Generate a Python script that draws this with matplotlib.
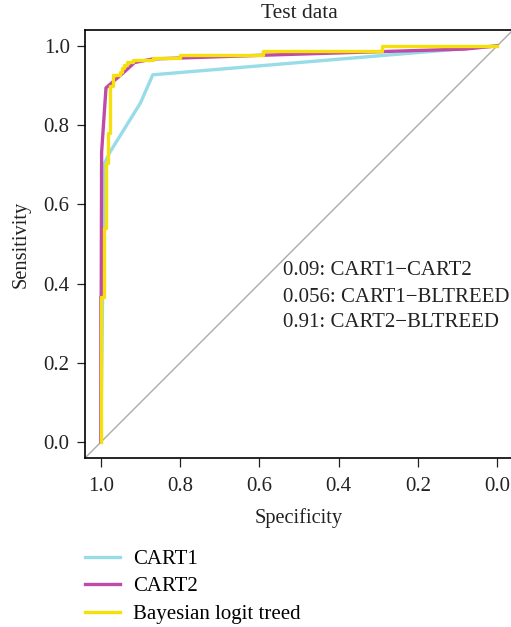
# ROC curves on test data: CART1, CART2 and Bayesian logit treed

import matplotlib.pyplot as plt

plt.rcParams['font.family'] = ['Liberation Serif', 'DejaVu Serif']

# ROC points (specificity, sensitivity)
cart1_spec = [1.0, 0.992, 0.990, 0.977, 0.90, 0.869, 0.0]
cart1_sens = [0.0, 0.66, 0.705, 0.732, 0.856, 0.927, 1.0]

cart2_spec = [1.0, 1.0, 0.999, 0.998, 0.987, 0.970, 0.940, 0.915, 0.869, 0.573, 0.081, 0.0]
cart2_sens = [0.0, 0.366, 0.37, 0.732, 0.894, 0.909, 0.935, 0.958, 0.967, 0.977, 0.992, 1.0]

blt_spec = [1.0, 1.0, 0.993, 0.993, 0.988, 0.988, 0.983, 0.983, 0.977, 0.977,
            0.970, 0.970, 0.952, 0.952, 0.947, 0.947, 0.942, 0.942, 0.934, 0.934,
            0.919, 0.919, 0.869, 0.869, 0.80, 0.80, 0.59, 0.59, 0.29, 0.29, 0.0]
blt_sens = [0.0, 0.366, 0.366, 0.54, 0.54, 0.705, 0.705, 0.78, 0.78, 0.90,
            0.90, 0.927, 0.927, 0.934, 0.934, 0.944, 0.944, 0.952, 0.952, 0.96,
            0.96, 0.965, 0.965, 0.97, 0.97, 0.978, 0.978, 0.988, 0.988, 1.0, 1.0]

ticks = [1.0, 0.8, 0.6, 0.4, 0.2, 0.0]
tick_labels = ['1.0', '0.8', '0.6', '0.4', '0.2', '0.0']

pvalues = ['0.09: CART1\u2212CART2', '0.056: CART1\u2212BLTREED', '0.91: CART2\u2212BLTREED']
pvalue_y = [0.434, 0.366, 0.303]

fig = plt.figure(figsize=(5.11, 6.27), dpi=100)
ax = fig.add_axes([0.1663, 0.2695, 0.8376, 0.6826])

# reference diagonal
ax.plot([1.04, -0.04], [-0.04, 1.04], color='#aaaaaa', lw=1)

ax.plot(cart1_spec, cart1_sens, color='#97dce7', lw=2.4, label='CART1')
ax.plot(cart2_spec, cart2_sens, color='#c04aa8', lw=2.4, label='CART2')
ax.plot(blt_spec, blt_sens, color='#f5e00a', lw=2.4, label='Bayesian logit treed')

for txt, yv in zip(pvalues, pvalue_y):
    ax.text(0.54, yv, txt, fontsize=15, va='center', ha='left', color='#222222')

ax.set_xlim(1.04, -0.04)
ax.set_ylim(-0.04, 1.04)
ax.set_xticks(ticks)
ax.set_xticklabels(tick_labels)
ax.set_yticks(ticks)
ax.set_yticklabels(tick_labels)
ax.tick_params(direction='out', length=6, width=0.9, labelsize=15, colors='#222222')
ax.tick_params(axis='x', length=6.5, pad=7)
ax.tick_params(axis='y', pad=5)
for s in ax.spines.values():
    s.set_linewidth(1.2)

ax.set_xlabel('Specificity', fontsize=14.7, color='#222222', labelpad=9)
ax.set_ylabel('Sensitivity', fontsize=14.7, color='#222222', labelpad=9)
fig.text(299 / 511, 1 - 13 / 627, 'Test data', ha='center', va='center', fontsize=15.5, color='#222222')

fig.legend(loc='upper left', bbox_to_anchor=(0.1663, 0.124), frameon=False,
           fontsize=15, handlelength=1.7, handletextpad=0.6, labelspacing=0.38,
           borderpad=0, borderaxespad=0)

fig.savefig('out.png', dpi=100)
